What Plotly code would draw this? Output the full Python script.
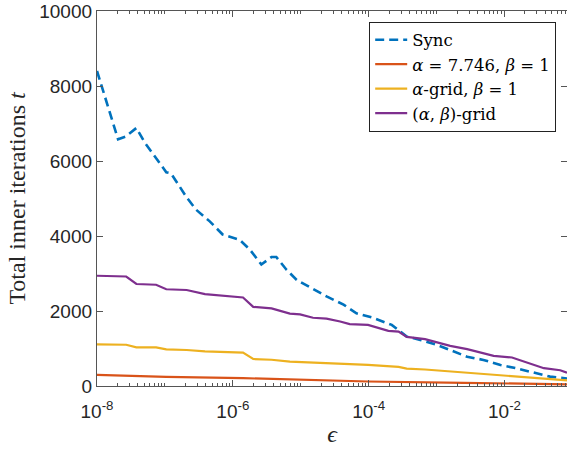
import numpy as np
import plotly.graph_objects as go

# log10(epsilon) and total inner iterations
sync_logeps = [-8.0, -7.69, -7.58, -7.42, -7.30, -6.98, -6.91, -6.68, -6.54, -6.34, -6.15, -5.90,
               -5.75, -5.58, -5.43, -5.36, -5.21, -5.06, -4.84, -4.62, -4.37, -4.18, -3.94, -3.66,
               -3.44, -3.24, -3.00, -2.80, -2.55, -2.31, -2.06, -1.82, -1.58, -1.33, -1.08]
sync_t = [8400, 6580, 6650, 6880, 6500, 5700, 5670, 5030, 4700, 4390, 4040, 3900,
          3640, 3240, 3440, 3440, 3100, 2830, 2610, 2390, 2170, 1940, 1820, 1630,
          1320, 1230, 1100, 960, 780, 695, 560, 470, 355, 250, 200]

ab_logeps = [-8.0, -7.57, -7.42, -7.13, -6.98, -6.68, -6.41, -6.15, -5.85, -5.70, -5.43, -5.16,
             -5.01, -4.82, -4.62, -4.42, -4.28, -4.01, -3.71, -3.56, -3.44, -3.17, -2.80, -2.55,
             -2.16, -1.89, -1.67, -1.42, -1.18, -1.08]
ab_t = [2940, 2920, 2720, 2700, 2580, 2560, 2450, 2400, 2360, 2110, 2070, 1930,
        1910, 1820, 1795, 1720, 1650, 1630, 1470, 1450, 1310, 1250, 1070, 985,
        805, 760, 625, 475, 420, 355]

ag_logeps = [-8.0, -7.57, -7.42, -7.13, -6.98, -6.68, -6.41, -5.85, -5.70, -5.43, -5.16, -5.01,
             -4.82, -4.42, -4.01, -3.56, -3.44, -3.17, -2.60, -2.16, -1.67, -1.08]
ag_t = [1110, 1100, 1030, 1030, 975, 960, 925, 890, 720, 700, 650, 640,
        615, 590, 565, 510, 465, 440, 365, 310, 240, 150]

fix_logeps = [-8.0, -6.98, -5.85, -4.42, -4.01, -2.60, -1.08]
fix_t = [295, 245, 210, 140, 120, 85, 45]

names = ["Sync", "<i>α</i> = 7.746, <i>β</i> = 1", "<i>α</i>-grid, <i>β</i> = 1", "(<i>α</i>, <i>β</i>)-grid"]
colors = ["#0072BD", "#D95319", "#EDB120", "#7E2F8E"]

x_major = [1e-8, 1e-6, 1e-4, 1e-2]
x_major_text = ["10<sup>-8</sup>", "10<sup>-6</sup>", "10<sup>-4</sup>", "10<sup>-2</sup>"]
x_minor = [m * 10.0 ** d for d in range(-8, 0) for m in range(1, 10)
           if not (m == 1 and d % 2 == 0)]
y_ticks = [0, 2000, 4000, 6000, 8000, 10000]

fig = go.Figure()
series = [(sync_logeps, sync_t), (fix_logeps, fix_t), (ag_logeps, ag_t), (ab_logeps, ab_t)]
for i, (lx, t) in enumerate(series):
    fig.add_trace(go.Scatter(
        x=[10.0 ** v for v in lx], y=t, mode="lines", name=names[i],
        line=dict(color=colors[i], width=2.6 if i == 0 else 2.2,
                  dash="9px,5px" if i == 0 else "solid"),
    ))

axis_col = "#555555"
fig.update_layout(
    width=567, height=456,
    margin=dict(l=97, r=0, t=11, b=70),
    paper_bgcolor="white", plot_bgcolor="white",
    showlegend=True,
    legend=dict(x=0.977, y=0.972, xanchor="right", yanchor="top",
                bgcolor="white", bordercolor="#222", borderwidth=1,
                font=dict(family="DejaVu Serif", size=16.5, color="black"),
                tracegroupgap=0, itemwidth=32),
    xaxis=dict(type="log", range=[-8, -1.08], showgrid=False, zeroline=False,
               showline=True, linecolor=axis_col, linewidth=1.3, mirror="ticks",
               ticks="inside", ticklen=6, tickcolor=axis_col, automargin=False,
               ticklabeloverflow="allow", ticklabelstandoff=8,
               tickvals=x_major, ticktext=x_major_text,
               minor=dict(tickvals=x_minor, ticks="inside", ticklen=3, tickcolor=axis_col),
               tickfont=dict(family="Liberation Sans", size=19, color="#262626"),
               title=dict(text="<i>ϵ</i>", font=dict(family="Liberation Serif", size=24, color="#262626"),
                          standoff=4)),
    yaxis=dict(range=[0, 10000], showgrid=False, zeroline=False,
               showline=True, linecolor=axis_col, linewidth=1.3, mirror="ticks",
               ticks="inside", ticklen=6, tickcolor=axis_col, automargin=False,
               ticklabeloverflow="allow",
               tickvals=y_ticks, ticktext=[str(v) for v in y_ticks],
               tickfont=dict(family="Liberation Sans", size=19, color="#262626"),
               title=dict(text="Total inner iterations <i>t</i>",
                          font=dict(family="Liberation Serif", size=24, color="#262626"),
                          standoff=6)),
)
fig.write_html("out.html", config={"displayModeBar": False},
               post_script="document.body.style.margin='0';document.body.style.padding='0';")
